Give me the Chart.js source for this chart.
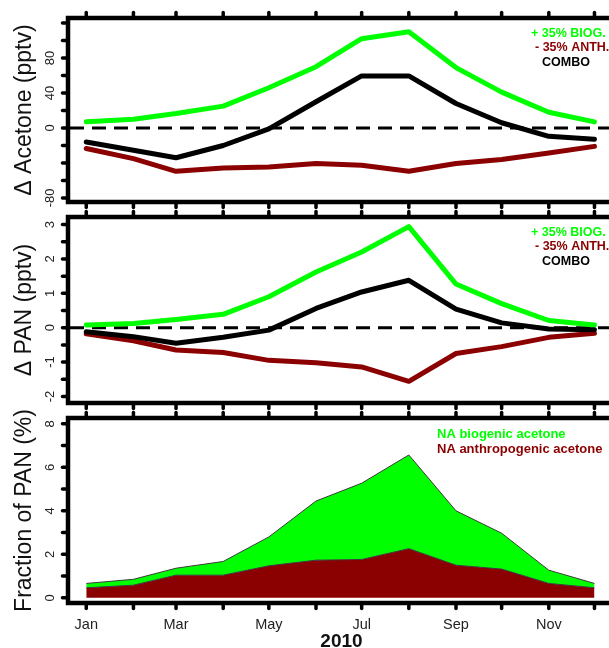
<!DOCTYPE html>
<html><head><meta charset="utf-8">
<script src="https://cdn.jsdelivr.net/npm/chart.js@4.4.1/dist/chart.umd.min.js"></script>
<style>
html,body{margin:0;padding:0;background:#fff;overflow:hidden;width:609px;height:648px;}
canvas{position:absolute;left:0;}
</style></head><body>
<canvas id="c1" width="630" height="212" style="top:0px"></canvas>
<canvas id="c2" width="630" height="205" style="top:208px"></canvas>
<canvas id="c3" width="630" height="238" style="top:410px"></canvas>
<script>
// ---- categories (mid-month dates, 2010) ----
const months = ['Jan','Feb','Mar','Apr','May','Jun','Jul','Aug','Sep','Oct','Nov','Dec'];
const monthDates = ['2010-01-15','2010-02-15','2010-03-15','2010-04-15','2010-05-15','2010-06-15',
                    '2010-07-15','2010-08-15','2010-09-15','2010-10-15','2010-11-15','2010-12-15'];
const monthTickLabels = ['Jan','','Mar','','May','','Jul','','Sep','','Nov',''];
const xAxisTitle = '2010';

// ---- panel 1: Δ Acetone (pptv) ----
const acetoneBiog  = [7, 10, 16.5, 25, 46, 70, 102, 110, 69, 41, 18, 7];
const acetoneAnth  = [-23.5, -35, -49.5, -45.7, -44.6, -40.7, -42.6, -49.5, -40.7, -36, -28.5, -21];
const acetoneCombo = [-16, -25.5, -34, -20, -1, 30, 59.5, 59.5, 28, 6, -9.5, -13];
const acetoneTicks = [-80,-60,-40,-20,0,20,40,60,80,100,120];
const acetoneTickLabels = [-80, 0, 40, 80];

// ---- panel 2: Δ PAN (pptv) ----
const panBiog  = [0.08, 0.12, 0.24, 0.39, 0.9, 1.62, 2.2, 2.94, 1.27, 0.7, 0.21, 0.08];
const panAnth  = [-0.18, -0.38, -0.65, -0.72, -0.95, -1.02, -1.14, -1.56, -0.75, -0.55, -0.28, -0.16];
const panCombo = [-0.12, -0.26, -0.45, -0.28, -0.07, 0.56, 1.04, 1.38, 0.54, 0.14, -0.04, -0.06];
const panTicks = [-2,-1.5,-1,-0.5,0,0.5,1,1.5,2,2.5,3];
const panTickLabels = [-2,-1,0,1,2,3];

// ---- panel 3: Fraction of PAN (%) ----
const fracAnth = [0.46, 0.58, 1.04, 1.04, 1.47, 1.73, 1.76, 2.26, 1.5, 1.32, 0.66, 0.46];
const fracBiog = [0.20, 0.27, 0.32, 0.63, 1.33, 2.72, 3.51, 4.31, 2.5, 1.65, 0.61, 0.20];
const fracTicks = [0,1,2,3,4,5,6,7,8];
const fracTickLabels = [0,2,4,6,8];

const scenarioLabels = ['+ 35% BIOG.', '- 35% ANTH.', 'COMBO'];
const fracLabels = ['NA biogenic acetone', 'NA anthropogenic acetone'];

// ---- styling ----
const GREEN = '#00ff00', DARKRED = '#8b0000', BLACK = '#000000';
const FONT = '"Liberation Sans", Arial, Helvetica, sans-serif';
const t0 = Date.UTC(2010,0,1);
const monthDays = monthDates.map(s => { const p = s.split('-').map(Number); return (Date.UTC(p[0],p[1]-1,p[2]) - t0)/86400000; });
const X_MIN = 2, X_MAX = 361.5;

function pts(arr){ return arr.map((v,i)=>({x: monthDays[i], y: v})); }

function seg(ctx,x1,y1,x2,y2){ ctx.beginPath(); ctx.moveTo(x1,y1); ctx.lineTo(x2,y2); ctx.stroke(); }

function framePlugin(cfg){
  return {
    id: 'rframe',
    beforeDatasetsDraw(chart){
      if(!cfg.zeroLine) return;
      const ctx = chart.ctx, a = chart.chartArea, y = chart.scales.y.getPixelForValue(0);
      ctx.save();
      ctx.setLineDash([14,8]); ctx.lineWidth = 3; ctx.strokeStyle = BLACK; ctx.lineCap = 'butt';
      seg(ctx, a.left+2, y, a.right, y);
      ctx.restore();
    },
    afterDraw(chart){
      const ctx = chart.ctx, a = chart.chartArea, xs = chart.scales.x, ys = chart.scales.y;
      ctx.save();
      // frame
      ctx.lineWidth = 4.5; ctx.strokeStyle = BLACK; ctx.lineJoin = 'miter';
      ctx.strokeRect(a.left, a.top, a.right - a.left, a.bottom - a.top);
      // ticks
      ctx.lineWidth = 3.5; ctx.lineCap = 'round';
      monthDays.forEach(d => {
        const x = xs.getPixelForValue(d);
        seg(ctx, x, a.top, x, a.top - 5.5);
        seg(ctx, x, a.bottom, x, a.bottom + 5.5);
      });
      cfg.yTicks.forEach(v => {
        const y = ys.getPixelForValue(v);
        seg(ctx, a.left, y, a.left - 5.5, y);
      });
      // y tick labels (rotated, reading upward)
      ctx.fillStyle = '#222';
      ctx.font = '13px ' + FONT;
      ctx.textAlign = 'center'; ctx.textBaseline = 'alphabetic';
      cfg.yLabels.forEach(v => {
        const y = ys.getPixelForValue(v);
        ctx.save(); ctx.translate(53.5, y); ctx.rotate(-Math.PI/2);
        ctx.fillText(String(v), 0, 0); ctx.restore();
      });
      // y title
      ctx.fillStyle = '#111';
      ctx.font = '23px ' + FONT;
      ctx.save(); ctx.translate(31, (a.top + a.bottom)/2); ctx.rotate(-Math.PI/2);
      ctx.textAlign = 'center'; ctx.textBaseline = 'alphabetic';
      ctx.fillText(cfg.yTitle, 0, 0); ctx.restore();
      // x tick labels
      if (cfg.xLabels){
        ctx.fillStyle = '#222';
        ctx.font = '14.5px ' + FONT;
        ctx.textAlign = 'center'; ctx.textBaseline = 'alphabetic';
        monthDays.forEach((d,i) => {
          if (!monthTickLabels[i]) return;
          ctx.fillText(monthTickLabels[i], xs.getPixelForValue(d), a.bottom + 25.5);
        });
        ctx.fillStyle = '#111';
        ctx.font = 'bold 19px ' + FONT;
        ctx.fillText(xAxisTitle, (a.left + a.right)/2, a.bottom + 44);
      }
      // in-plot legend text
      cfg.legend.forEach(l => {
        ctx.fillStyle = l.color; ctx.font = 'bold ' + l.size + 'px ' + FONT;
        ctx.textAlign = 'left'; ctx.textBaseline = 'middle';
        ctx.fillText(l.text, l.x, a.top + l.dy);
      });
      ctx.restore();
    }
  };
}

function lineDs(label, data, color, order){
  return { label, data: pts(data), borderColor: color, backgroundColor: color, borderWidth: 5,
           pointRadius: 0, tension: 0, fill: false, borderJoinStyle: 'round', borderCapStyle: 'round', order };
}

function baseOptions(pad, ymin, ymax, stacked){
  return {
    responsive: false, animation: false, devicePixelRatio: 1,
    layout: { padding: pad },
    plugins: { legend: { display: false }, tooltip: { enabled: false } },
    scales: {
      x: { type: 'linear', display: false, min: X_MIN, max: X_MAX },
      y: { type: 'linear', display: false, min: ymin, max: ymax, stacked: !!stacked }
    }
  };
}

const scenLegend = [
  { text: scenarioLabels[0], color: GREEN,   x: 531, dy: 15.5, size: 12.5 },
  { text: scenarioLabels[1], color: DARKRED, x: 535, dy: 30,   size: 12.5 },
  { text: scenarioLabels[2], color: BLACK,   x: 542, dy: 44.5, size: 12.5 }
];

new Chart(document.getElementById('c1'), {
  type: 'line',
  data: { datasets: [
    lineDs(scenarioLabels[2], acetoneCombo, BLACK, 0),
    lineDs(scenarioLabels[1], acetoneAnth, DARKRED, 1),
    lineDs(scenarioLabels[0], acetoneBiog, GREEN, 2)
  ]},
  options: baseOptions({left: 68, right: 15, top: 18, bottom: 10}, -84.6, 125.7),
  plugins: [framePlugin({ zeroLine: true, yTicks: acetoneTicks, yLabels: acetoneTickLabels,
    yTitle: '\u0394 Acetone (pptv)', xLabels: false, legend: scenLegend })]
});

new Chart(document.getElementById('c2'), {
  type: 'line',
  data: { datasets: [
    lineDs(scenarioLabels[2], panCombo, BLACK, 0),
    lineDs(scenarioLabels[1], panAnth, DARKRED, 1),
    lineDs(scenarioLabels[0], panBiog, GREEN, 2)
  ]},
  options: baseOptions({left: 68, right: 15, top: 9, bottom: 10}, -2.19, 3.22),
  plugins: [framePlugin({ zeroLine: true, yTicks: panTicks, yLabels: panTickLabels,
    yTitle: '\u0394 PAN (pptv)', xLabels: false, legend: scenLegend })]
});

new Chart(document.getElementById('c3'), {
  type: 'line',
  data: { datasets: [
    { label: fracLabels[1], data: pts(fracAnth), borderColor: '#3a3a3a', borderWidth: 1,
      backgroundColor: DARKRED, fill: 'origin', pointRadius: 0, tension: 0 },
    { label: fracLabels[0], data: pts(fracBiog), borderColor: '#3a3a3a', borderWidth: 1,
      backgroundColor: GREEN, fill: '-1', pointRadius: 0, tension: 0 }
  ]},
  options: baseOptions({left: 68, right: 15, top: 8, bottom: 45}, -0.24, 8.27, true),
  plugins: [framePlugin({ zeroLine: false, yTicks: fracTicks, yLabels: fracTickLabels,
    yTitle: 'Fraction of PAN (%)', xLabels: true, legend: [
      { text: fracLabels[0], color: GREEN,   x: 437, dy: 16, size: 13 },
      { text: fracLabels[1], color: DARKRED, x: 437, dy: 31, size: 13 }
    ] })]
});
</script>
</body></html>
